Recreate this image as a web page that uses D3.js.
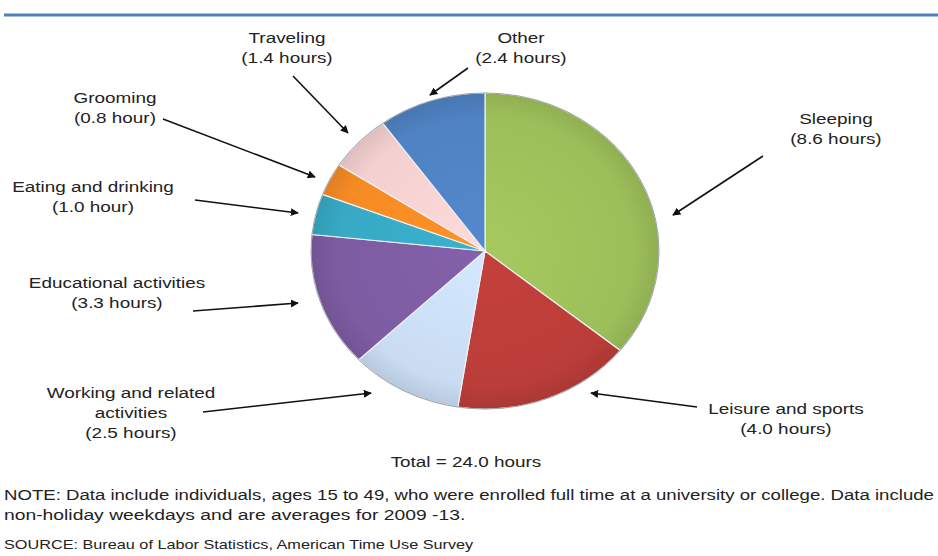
<!DOCTYPE html>
<html>
<head>
<meta charset="utf-8">
<script src="https://cdn.jsdelivr.net/npm/d3@7"></script>
<style>
  body { margin: 0; background: #fff; }
  svg text { font-family: "Liberation Sans", Arial, sans-serif; fill: #222; }
</style>
</head>
<body>
<div id="main"></div>
<script>
// data (clockwise from 12 o'clock)
const activities = ["Sleeping", "Leisure and sports", "Working and related activities",
                    "Educational activities", "Eating and drinking", "Grooming",
                    "Traveling", "Other"];
const hours = [8.6, 4.0, 2.5, 3.3, 1.0, 0.8, 1.4, 2.4];
const totalLabel = "Total = 24.0 hours";
const noteLines = ["NOTE: Data include individuals, ages 15 to 49, who were enrolled full time at a university or college. Data include",
                   "non-holiday weekdays and are averages for 2009 -13."];
const sourceLine = "SOURCE: Bureau of Labor Statistics, American Time Use Survey";

const ctx = {
    w: 938,
    h: 556,
    cx: 485, cy: 251,
    rx: 174, ry: 158,
    sx: 1.22, // the original picture is stretched sideways, text included
    colors: ["#9dbf5a", "#bb3d39", "#c9dcf2", "#7d5ca2", "#37a9c4", "#f68b25", "#f3cfcf", "#4f82c2"],
    // label anchor (centre x, first line y) and arrow (from -> to)
    labels: {
        "Sleeping":                       {x: 836, y: 124, lines: ["Sleeping"], arrow: [763, 156, 673, 215]},
        "Leisure and sports":             {x: 786, y: 414, lines: ["Leisure and sports"], arrow: [697, 407, 591, 393]},
        "Working and related activities": {x: 131, y: 398, lines: ["Working and related", "activities"], arrow: [203, 412, 371, 393]},
        "Educational activities":         {x: 117, y: 288, lines: ["Educational activities"], arrow: [193, 311, 298, 303]},
        "Eating and drinking":            {x: 93,  y: 192, lines: ["Eating and drinking"], arrow: [195, 200, 298, 213]},
        "Grooming":                       {x: 115, y: 103, lines: ["Grooming"], arrow: [163, 119, 315, 177]},
        "Traveling":                      {x: 287, y: 43,  lines: ["Traveling"], arrow: [293, 76, 348, 133]},
        "Other":                          {x: 521, y: 43,  lines: ["Other"], arrow: [468, 68, 430, 95]}
    }
};

function hoursText(v){
    return `(${v.toFixed(1)} ${v <= 1 ? "hour" : "hours"})`;
}

// a text group anchored at x, widened by sx
function stretchedG(parent, x, sx){
    return parent.append("g").attr("transform", `translate(${x},0) scale(${sx},1)`);
}

function createViz(){
    let svgEl = d3.select("#main").append("svg")
        .attr("width", ctx.w).attr("height", ctx.h);
    let defs = svgEl.append("defs");
    defs.append("marker")
        .attr("id", "arrowHead")
        .attr("viewBox", "0 0 10 10")
        .attr("refX", 9).attr("refY", 5)
        .attr("markerWidth", 8).attr("markerHeight", 8)
        .attr("markerUnits", "userSpaceOnUse")
        .attr("orient", "auto")
        .append("path").attr("d", "M0,0 L10,5 L0,10 z").attr("fill", "#111");

    // soft shading on each slice
    ctx.colors.forEach((c, i) => {
        let g = defs.append("radialGradient").attr("id", "grad" + i)
            .attr("gradientUnits", "userSpaceOnUse")
            .attr("cx", 0).attr("cy", 0).attr("r", ctx.ry);
        g.append("stop").attr("offset", "0%").attr("stop-color", d3.color(c).brighter(0.15));
        g.append("stop").attr("offset", "85%").attr("stop-color", c);
        g.append("stop").attr("offset", "100%").attr("stop-color", d3.color(c).darker(0.25));
    });

    // top rule
    svgEl.append("line")
        .attr("x1", 4).attr("x2", ctx.w).attr("y1", 15).attr("y2", 15)
        .attr("stroke", "#4f81bd").attr("stroke-width", 3);

    // pie, drawn as a circle and squashed into an ellipse
    let pie = d3.pie().sort(null).value((d) => d);
    let arc = d3.arc().innerRadius(0).outerRadius(ctx.ry);
    let pieG = svgEl.append("g")
        .attr("transform", `translate(${ctx.cx},${ctx.cy}) scale(${ctx.rx / ctx.ry},1)`);
    pieG.selectAll("path")
        .data(pie(hours))
        .enter().append("path")
        .attr("d", arc)
        .attr("fill", (d, i) => `url(#grad${i})`)
        .attr("stroke", "#eef0f4")
        .attr("stroke-width", 1.2)
        .attr("vector-effect", "non-scaling-stroke");
    pieG.append("ellipse")
        .attr("rx", ctx.ry).attr("ry", ctx.ry)
        .attr("fill", "none").attr("stroke", "#8a8f95").attr("stroke-width", 0.8)
        .attr("vector-effect", "non-scaling-stroke");

    // labels with arrows
    let labG = svgEl.append("g");
    activities.forEach((name, i) => {
        let L = ctx.labels[name];
        let lines = L.lines.concat([hoursText(hours[i])]);
        let t = stretchedG(labG, L.x, ctx.sx).append("text")
            .attr("text-anchor", "middle")
            .attr("font-size", 15.5);
        lines.forEach((s, k) => {
            t.append("tspan").attr("x", 0).attr("y", L.y + k * 20).text(s);
        });
        labG.append("line")
            .attr("x1", L.arrow[0]).attr("y1", L.arrow[1])
            .attr("x2", L.arrow[2]).attr("y2", L.arrow[3])
            .attr("stroke", "#111").attr("stroke-width", 1.6)
            .attr("marker-end", "url(#arrowHead)");
    });

    stretchedG(svgEl, 466, ctx.sx).append("text")
        .attr("x", 0).attr("y", 467)
        .attr("text-anchor", "middle")
        .attr("font-size", 15.5)
        .text(totalLabel);

    // footnotes; the long first line is squeezed a little to stay inside the page
    const noteScale = [1.2, 1.245];
    noteLines.forEach((s, k) => {
        stretchedG(svgEl, 4, noteScale[k]).append("text")
            .attr("x", 0).attr("y", 500 + k * 20)
            .attr("font-size", 15.5)
            .text(s);
    });
    stretchedG(svgEl, 4, 1.3).append("text")
        .attr("x", 0).attr("y", 549)
        .attr("font-size", 12.5)
        .text(sourceLine);
}

createViz();
</script>
</body>
</html>
